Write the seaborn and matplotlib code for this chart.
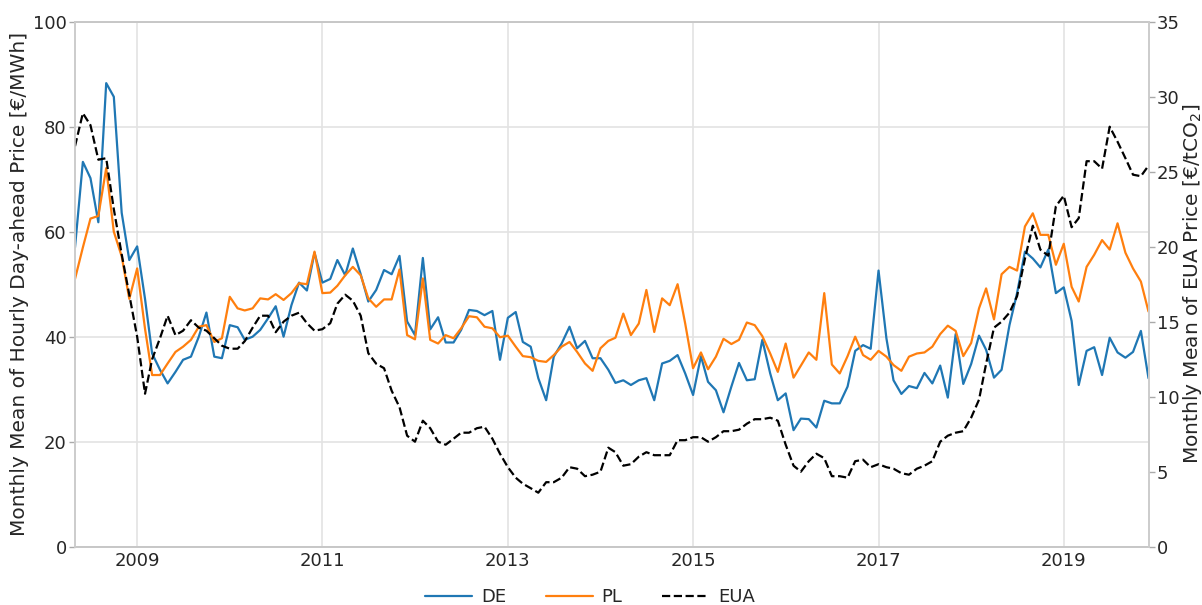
import numpy as np
import pandas as pd
import matplotlib
matplotlib.use("Agg")
import matplotlib.pyplot as plt
import seaborn as sns

# ---- data (monthly means, May 2008 - Dec 2019) ----
start_month = "2008-05-01"
n_months = 140

de_price = [
    57.0, 73.3, 70.2, 61.8, 88.3, 85.7, 63.6, 54.6, 57.2, 47.2,
    36.8, 33.7, 31.1, 33.3, 35.6, 36.2, 40.0, 44.6, 36.2, 35.9,
    42.2, 41.8, 39.4, 40.0, 41.3, 43.5, 45.8, 40.0, 46.0, 50.3,
    48.8, 56.0, 50.3, 51.0, 54.6, 51.7, 56.8, 51.9, 46.7, 48.9,
    52.7, 51.9, 55.4, 42.9, 40.3, 55.0, 41.4, 43.7, 38.9, 38.9,
    41.3, 45.1, 44.9, 44.1, 44.9, 35.6, 43.6, 44.7, 39.0, 38.1,
    32.1, 27.9, 36.2, 38.7, 41.9, 37.8, 39.2, 35.9, 35.9, 33.7,
    31.2, 31.7, 30.8, 31.7, 32.1, 27.9, 34.9, 35.4, 36.5, 33.0,
    28.9, 36.3, 31.4, 29.8, 25.6, 30.5, 35.0, 31.7, 31.9, 39.4,
    33.0, 27.9, 29.2, 22.2, 24.4, 24.3, 22.7, 27.8, 27.3, 27.3,
    30.5, 37.3, 38.4, 37.7, 52.6, 39.7, 31.7, 29.1, 30.6, 30.2,
    33.1, 31.1, 34.5, 28.4, 40.5, 31.0, 34.8, 40.2, 37.5, 32.2,
    33.7, 42.2, 48.3, 56.2, 54.9, 53.2, 56.6, 48.3, 49.4, 43.0,
    30.8, 37.3, 38.0, 32.7, 39.8, 37.0, 36.0, 37.1, 41.1, 32.1,
]

pl_price = [
    51.0, 57.0, 62.5, 63.0, 72.1, 60.0, 55.3, 47.2, 53.0, 41.5,
    32.7, 32.7, 34.9, 37.1, 38.1, 39.4, 41.9, 42.2, 39.0, 39.7,
    47.6, 45.4, 45.0, 45.4, 47.3, 47.1, 48.1, 47.0, 48.3, 50.2,
    50.0, 56.2, 48.3, 48.4, 49.7, 51.7, 53.3, 51.7, 47.3, 45.7,
    47.1, 47.1, 52.8, 40.3, 39.5, 51.1, 39.4, 38.7, 40.3, 39.7,
    41.6, 43.9, 43.7, 41.9, 41.6, 39.9, 40.2, 38.1, 36.3, 36.1,
    35.4, 35.2, 36.5, 38.1, 39.0, 37.1, 34.9, 33.5, 37.8, 39.2,
    39.8, 44.4, 40.3, 42.5, 48.9, 40.9, 47.3, 46.0, 50.0, 42.5,
    34.0, 37.0, 33.8, 36.2, 39.6, 38.6, 39.4, 42.7, 42.2, 40.1,
    36.8, 33.3, 38.7, 32.2, 34.5, 37.0, 35.6, 48.3, 34.7, 33.0,
    36.3, 40.0, 36.5, 35.6, 37.3, 36.2, 34.6, 33.5, 36.2, 36.8,
    37.0, 38.1, 40.5, 42.1, 41.1, 36.3, 38.8, 45.4, 49.2, 43.3,
    51.9, 53.3, 52.6, 61.0, 63.5, 59.4, 59.4, 53.7, 57.7, 49.5,
    46.7, 53.3, 55.6, 58.4, 56.6, 61.6, 56.0, 53.0, 50.5, 44.8,
]

eua_price = [
    26.7, 28.9, 28.1, 25.8, 25.9, 22.5, 19.5, 16.8, 14.0, 10.2,
    12.5, 13.9, 15.4, 14.1, 14.4, 15.1, 14.6, 14.4, 13.9, 13.4,
    13.2, 13.2, 13.7, 14.6, 15.4, 15.4, 14.3, 15.0, 15.4, 15.6,
    14.9, 14.4, 14.5, 14.9, 16.2, 16.8, 16.4, 15.4, 12.9, 12.2,
    11.9, 10.4, 9.3, 7.4, 7.0, 8.4, 7.9, 7.0, 6.8, 7.2,
    7.6, 7.6, 7.9, 8.0, 7.2, 6.2, 5.3, 4.6, 4.2, 3.9,
    3.6, 4.3, 4.3, 4.6, 5.3, 5.2, 4.7, 4.8, 5.0, 6.6,
    6.3, 5.4, 5.5, 6.0, 6.3, 6.1, 6.1, 6.1, 7.1, 7.1,
    7.3, 7.3, 7.0, 7.3, 7.7, 7.7, 7.8, 8.2, 8.5, 8.5,
    8.6, 8.4, 6.8, 5.4, 5.0, 5.7, 6.2, 5.9, 4.7, 4.7,
    4.6, 5.7, 5.8, 5.3, 5.5, 5.3, 5.2, 4.9, 4.8, 5.2,
    5.4, 5.7, 7.0, 7.4, 7.6, 7.7, 8.6, 9.8, 12.2, 14.6,
    15.0, 15.6, 16.7, 19.2, 21.4, 19.8, 19.4, 22.7, 23.4, 21.3,
    21.9, 25.7, 25.7, 25.2, 28.0, 27.0, 25.9, 24.8, 24.7, 25.4,
]

series_names = ["DE", "PL", "EUA"]
tick_years = ["2009", "2011", "2013", "2015", "2017", "2019"]

months = pd.date_range(start_month, periods=n_months, freq="MS")
df = pd.DataFrame({"month": months, "DE": de_price, "PL": pl_price, "EUA": eua_price})

# ---- style ----
sns.set_style("whitegrid")
plt.rcParams["font.family"] = ["DejaVu Sans"]
plt.rcParams["text.color"] = "#262626"
plt.rcParams["axes.labelcolor"] = "#262626"
plt.rcParams["xtick.color"] = "#262626"
plt.rcParams["ytick.color"] = "#262626"

FS = 13
LFS = 14.5
fig = plt.figure(figsize=(12.02, 6.05), dpi=100)
ax = fig.add_axes([75 / 1202, 1 - 546.7 / 605, (1148.5 - 75) / 1202, (546.7 - 21.7) / 605])
ax2 = ax.twinx()

blue = "#1f77b4"
orange = "#ff7f0e"

sns.lineplot(data=df, x="month", y="DE", ax=ax, color=blue, linewidth=1.6, label="DE", legend=False)
sns.lineplot(data=df, x="month", y="PL", ax=ax, color=orange, linewidth=1.6, label="PL", legend=False)
sns.lineplot(data=df, x="month", y="EUA", ax=ax2, color="black", linewidth=1.6,
             linestyle="--", label="EUA", legend=False)

ax.set_xlim(months[0], months[-1])
ax.set_ylim(0, 100)
ax2.set_ylim(0, 35)
ax.set_yticks([0, 20, 40, 60, 80, 100])
ax2.set_yticks([0, 5, 10, 15, 20, 25, 30, 35])
ax.set_xticks(pd.to_datetime([y + "-01-01" for y in tick_years]))
ax.set_xticklabels(tick_years)

ax.grid(True, color="#e3e3e3", linewidth=1.2)
ax2.grid(False)

for a in (ax, ax2):
    for s in a.spines.values():
        s.set_color("#cccccc")
        s.set_linewidth(1.2)
ax.spines["top"].set_color("#aaaaaa")
ax.spines["bottom"].set_color("#aaaaaa")

ax.tick_params(axis="y", labelsize=FS, length=4, width=1, color="#aaaaaa", pad=2)
ax.tick_params(axis="x", labelsize=FS, length=0, pad=4)
ax2.tick_params(axis="y", labelsize=FS, length=4, width=1, color="#aaaaaa", pad=2)

ax.set_xlabel("")
ax.set_ylabel("Monthly Mean of Hourly Day-ahead Price [€/MWh]", fontsize=LFS, labelpad=3)
ax2.set_ylabel("Monthly Mean of EUA Price [€/tCO$_2$]", fontsize=LFS, labelpad=1)

handles = [ax.get_lines()[0], ax.get_lines()[1], ax2.get_lines()[0]]
fig.legend(handles, series_names, loc="center", bbox_to_anchor=(590 / 1202, 1 - 597 / 605),
           ncol=3, frameon=False, fontsize=FS, handlelength=2.6, columnspacing=2.2,
           handletextpad=0.5)

fig.savefig("out.png", dpi=100)
